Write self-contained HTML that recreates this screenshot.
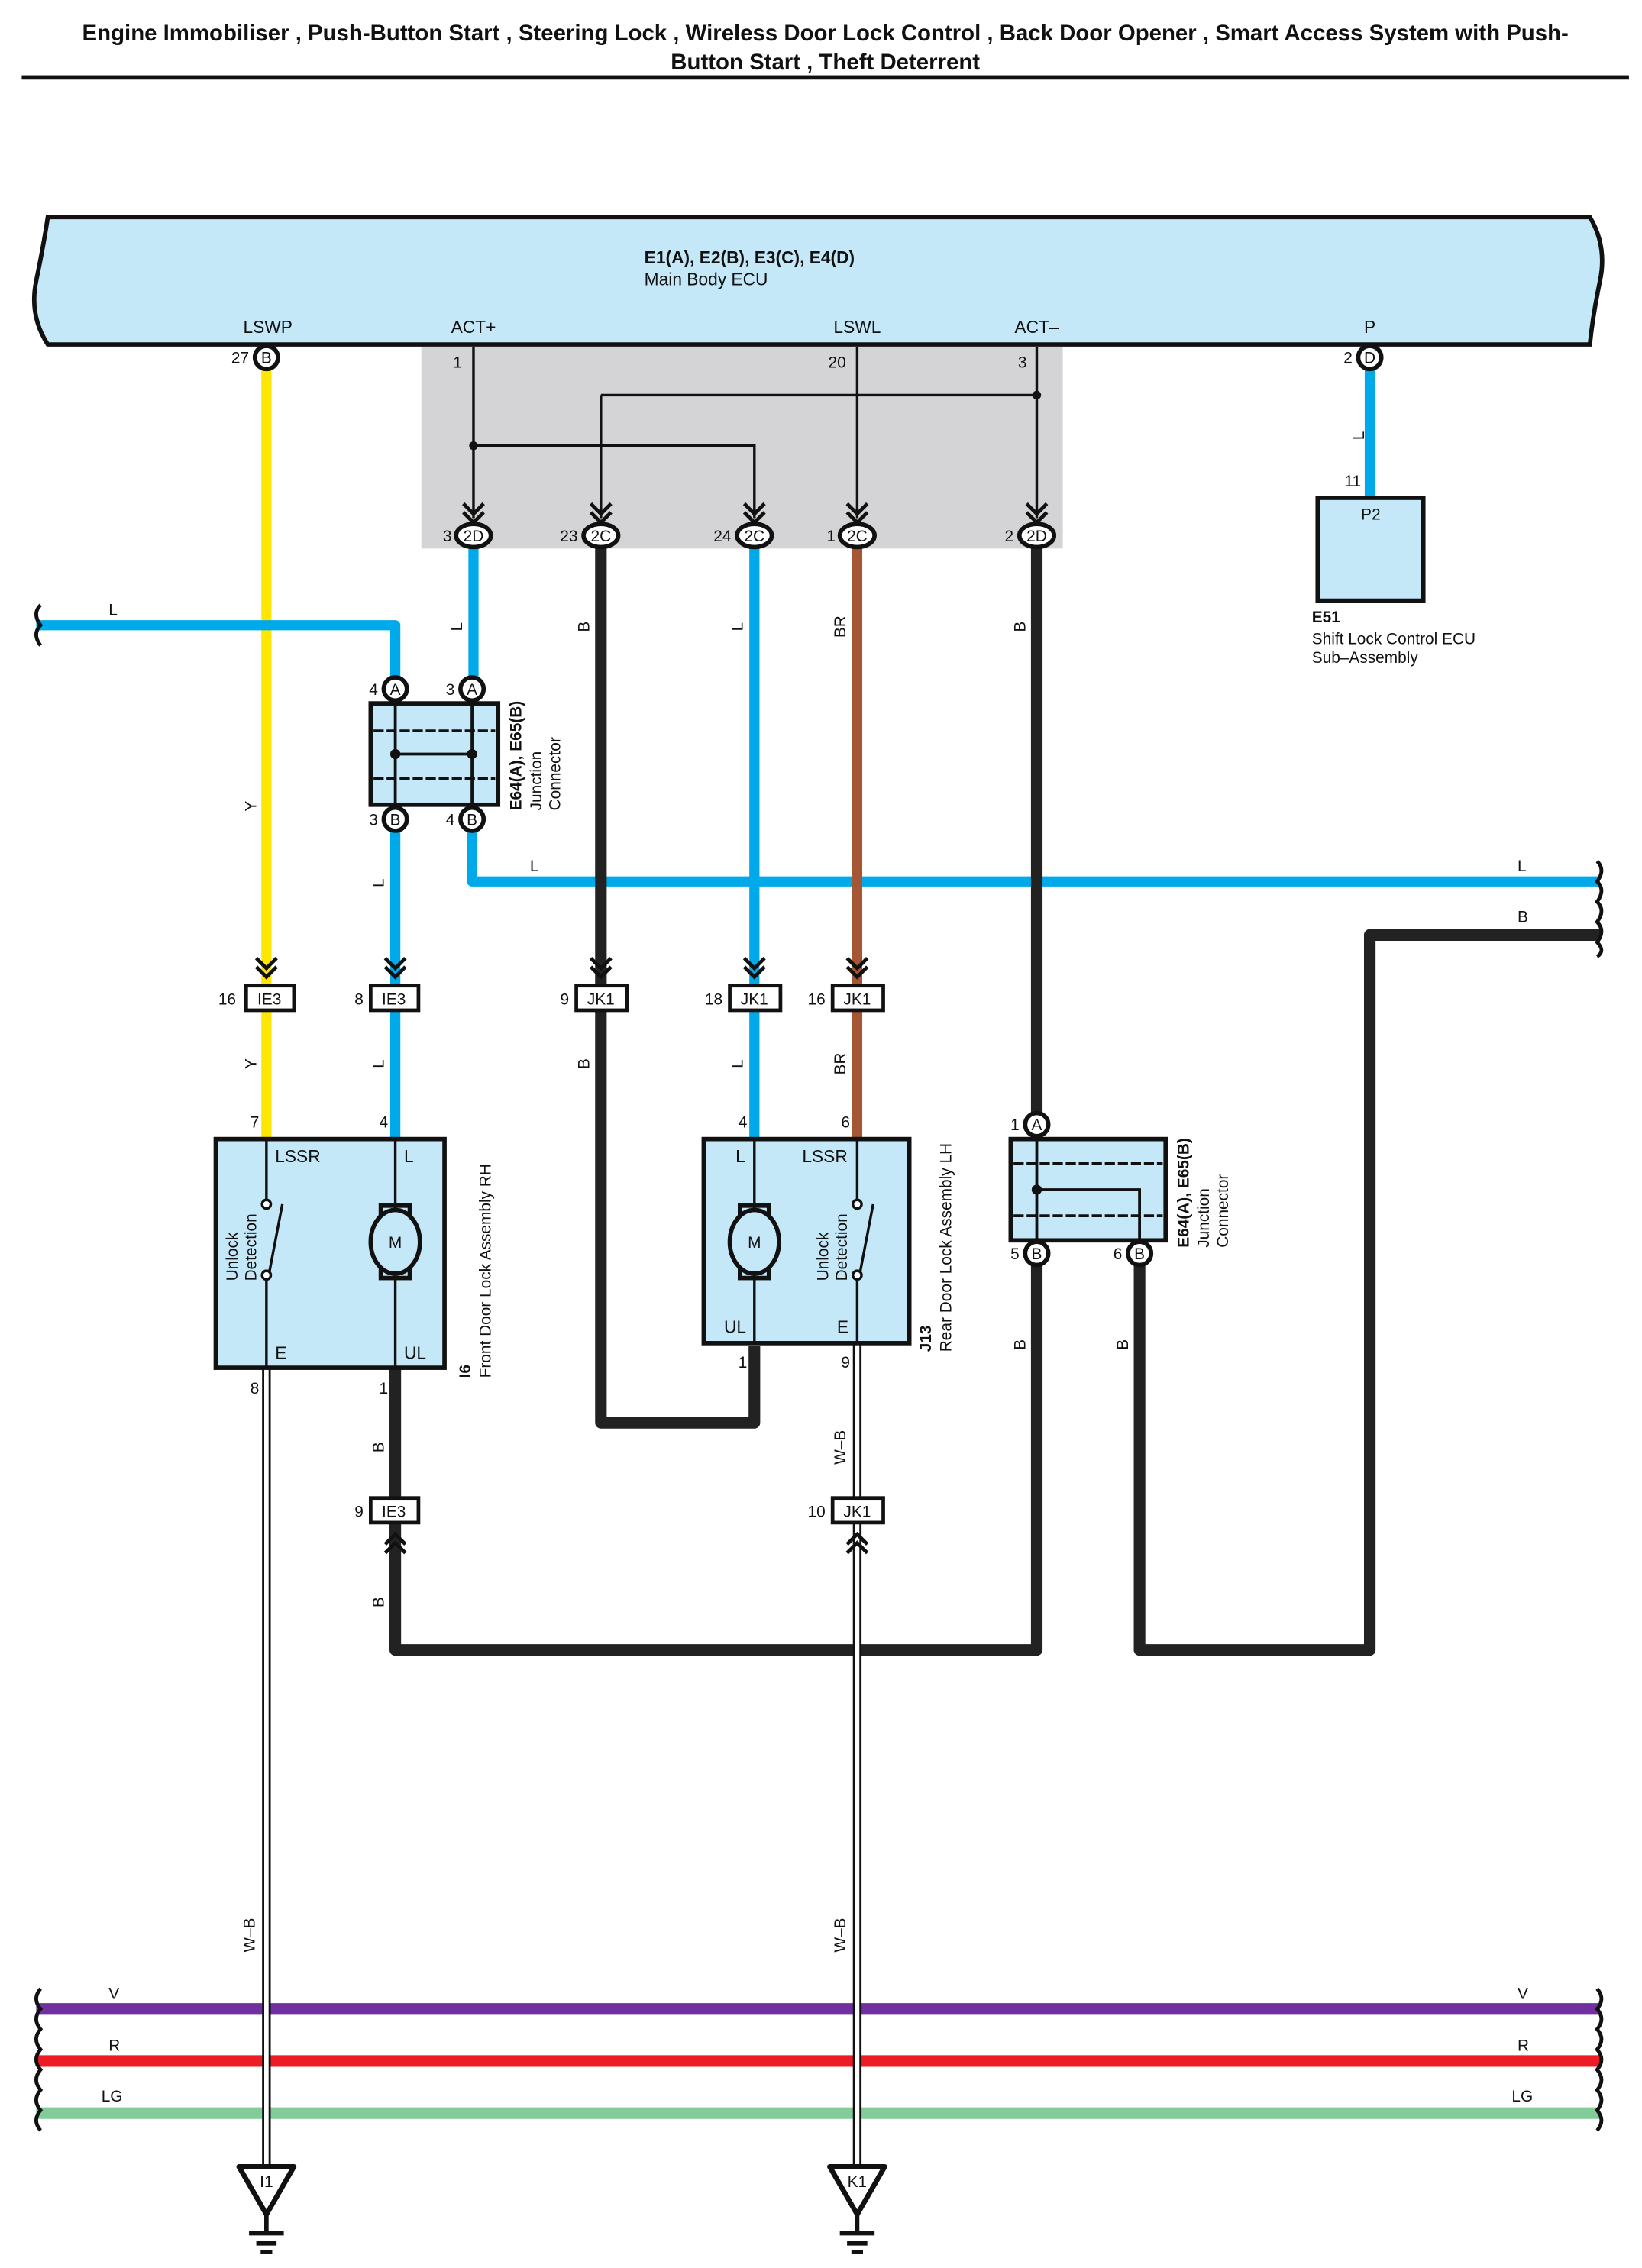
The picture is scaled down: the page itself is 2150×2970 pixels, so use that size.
<!DOCTYPE html>
<html><head><meta charset="utf-8"><style>
html,body{margin:0;padding:0;background:#fff}
svg{display:block}
text{font-family:"Liberation Sans",sans-serif;fill:#111}
</style></head><body>
<svg width="2150" height="2970" viewBox="0 0 1134 1567" preserveAspectRatio="none" xmlns="http://www.w3.org/2000/svg">
<defs>
<g id="chev"><path d="M-7,-10 L0,-3 L7,-10 M-7,-4 L0,3 L7,-4" fill="none" stroke="#111" stroke-width="2.5"/></g>
<g id="chevU"><path d="M-7,10 L0,3 L7,10 M-7,4 L0,-3 L7,4" fill="none" stroke="#111" stroke-width="2.5"/></g>
<g id="gnd"><path d="M-19,0 L19,0 L0,33 Z" fill="#fff" stroke="#111" stroke-width="3.5" stroke-linejoin="round"/><path d="M0,33 V46 M-12,46 H12 M-7,53 H7 M-4,59 H4" stroke="#111" stroke-width="3"/></g>
</defs>
<text x="570" y="28" font-size="15.5" font-weight="bold" text-anchor="middle">Engine Immobiliser , Push-Button Start , Steering Lock , Wireless Door Lock Control , Back Door Opener , Smart Access System with Push-</text>
<text x="570" y="48" font-size="15.5" font-weight="bold" text-anchor="middle">Button Start , Theft Deterrent</text>
<rect x="15" y="52" width="1110" height="3" fill="#111"/>

<!-- ECU -->
<path d="M33,150 H1098 Q1110,170 1105,194 Q1100,218 1098,238 H33 Q20,218 25,194 Q30,170 33,150 Z" fill="#c5e8f9" stroke="#111" stroke-width="3"/>
<text x="445" y="182" font-size="12" font-weight="bold">E1(A), E2(B), E3(C), E4(D)</text>
<text x="445" y="197" font-size="12">Main Body ECU</text>
<g font-size="12" text-anchor="middle"><text x="185" y="230">LSWP</text><text x="327" y="230">ACT+</text><text x="592" y="230">LSWL</text><text x="716" y="230">ACT–</text><text x="946" y="230">P</text></g>

<rect x="291" y="240" width="443" height="139" fill="#d4d4d6"/>

<!-- thin ECU lines -->
<g stroke="#111" stroke-width="1.8" fill="none">
<path d="M327,240 V358 M327,308 H521 V358 M592,240 V358 M716,240 V358 M415,273 H716 M415,273 V358"/>
</g>
<circle cx="327" cy="308" r="3" fill="#111"/><circle cx="716" cy="273" r="3" fill="#111"/>
<g font-size="11"><text x="313" y="254">1</text><text x="572" y="254">20</text><text x="703" y="254">3</text></g>

<!-- wires -->
<g fill="none" stroke-linejoin="round">
<path d="M184,255 V788" stroke="#ffe600" stroke-width="7"/>
<path d="M25,432 H273 V470" stroke="#00aaea" stroke-width="7"/>
<path d="M327,378 V470" stroke="#00aaea" stroke-width="7"/>
<path d="M326,566 V609 H1105" stroke="#00aaea" stroke-width="7"/>
<path d="M273,566 V788" stroke="#00aaea" stroke-width="7"/>
<path d="M521,378 V788" stroke="#00aaea" stroke-width="7"/>
<path d="M946,255 V343" stroke="#00aaea" stroke-width="7"/>
<path d="M415,378 V983 H521 V930" stroke="#222" stroke-width="8"/>
<path d="M592,378 V788" stroke="#a55634" stroke-width="7"/>
<path d="M716,378 V770" stroke="#222" stroke-width="8"/>
<path d="M716,874 V1140 H273 V1052" stroke="#222" stroke-width="8"/>
<path d="M787,874 V1140 H946 V646 H1105" stroke="#222" stroke-width="8"/>
<path d="M273,945 V1035" stroke="#222" stroke-width="8"/>
<!-- buses -->
<path d="M25,1388 H1105" stroke="#7030a0" stroke-width="8"/>
<path d="M25,1424 H1105" stroke="#ed1c24" stroke-width="8"/>
<path d="M25,1460 H1105" stroke="#82cc9a" stroke-width="8"/>
<!-- W-B -->
<path d="M184,945 V1497" stroke="#111" stroke-width="6"/>
<path d="M184,945 V1497" stroke="#fff" stroke-width="3"/>
<path d="M592,928 V1497" stroke="#111" stroke-width="6"/>
<path d="M592,928 V1497" stroke="#fff" stroke-width="3"/>
</g>
<!-- wire break marks -->
<g fill="none" stroke="#111" stroke-width="2.5">
<path d="M28,418 q-6,6 0,14 q-6,6 0,14"/>
<path d="M1103,595 q6,6 0,14 q6,6 0,14 q6,6 0,14 q6,6 0,14 q6,6 0,10"/>
<path d="M28,1374 q-6,7 0,14 q-6,7 0,14 q-6,7 0,14 q-6,7 0,14 q-6,7 0,14 q-6,7 0,14 q-6,7 0,14"/>
<path d="M1103,1374 q6,7 0,14 q6,7 0,14 q6,7 0,14 q6,7 0,14 q6,7 0,14 q6,7 0,14 q6,7 0,14"/>
</g>

<!-- wire labels -->
<g font-size="11">
<text x="75" y="425">L</text><text x="366" y="602">L</text><text x="1048" y="602">L</text><text x="1048" y="637">B</text>
<text x="75" y="1381">V</text><text x="1048" y="1381">V</text>
<text x="75" y="1417">R</text><text x="1048" y="1417">R</text>
<text x="70" y="1452">LG</text><text x="1044" y="1452">LG</text>
<text x="930" y="300" transform="rotate(-90 938 296)">L</text>
</g>
<g font-size="11" text-anchor="middle">
<text transform="translate(177,557) rotate(-90)">Y</text>
<text transform="translate(177,735) rotate(-90)">Y</text>
<text transform="translate(319,433) rotate(-90)">L</text>
<text transform="translate(265,610) rotate(-90)">L</text>
<text transform="translate(265,735) rotate(-90)">L</text>
<text transform="translate(407,433) rotate(-90)">B</text>
<text transform="translate(407,735) rotate(-90)">B</text>
<text transform="translate(513,433) rotate(-90)">L</text>
<text transform="translate(513,735) rotate(-90)">L</text>
<text transform="translate(584,433) rotate(-90)">BR</text>
<text transform="translate(584,735) rotate(-90)">BR</text>
<text transform="translate(708,433) rotate(-90)">B</text>
<text transform="translate(708,929) rotate(-90)">B</text>
<text transform="translate(779,929) rotate(-90)">B</text>
<text transform="translate(265,1000) rotate(-90)">B</text>
<text transform="translate(265,1107) rotate(-90)">B</text>
<text transform="translate(584,1000) rotate(-90)">W–B</text>
<text transform="translate(176,1337) rotate(-90)">W–B</text>
<text transform="translate(584,1337) rotate(-90)">W–B</text>
</g>

<!-- ECU pins -->
<g stroke="#111" stroke-width="3" fill="#fff">
<circle cx="184" cy="247" r="8"/><circle cx="946" cy="247" r="8"/>
<ellipse cx="327" cy="370" rx="12" ry="8"/><ellipse cx="415" cy="370" rx="12" ry="8"/><ellipse cx="521" cy="370" rx="12" ry="8"/><ellipse cx="592" cy="370" rx="12" ry="8"/><ellipse cx="716" cy="370" rx="12" ry="8"/>
</g>
<g font-size="11" text-anchor="middle">
<text x="184" y="251">B</text><text x="946" y="251">D</text>
<text x="327" y="374">2D</text><text x="415" y="374">2C</text><text x="521" y="374">2C</text><text x="592" y="374">2C</text><text x="716" y="374">2D</text>
</g>
<g font-size="11" text-anchor="end">
<text x="172" y="251">27</text><text x="934" y="251">2</text>
<text x="312" y="374">3</text><text x="399" y="374">23</text><text x="505" y="374">24</text><text x="577" y="374">1</text><text x="700" y="374">2</text>
</g>
<g><use href="#chev" x="327" y="358"/><use href="#chev" x="415" y="358"/><use href="#chev" x="521" y="358"/><use href="#chev" x="592" y="358"/><use href="#chev" x="716" y="358"/></g>

<!-- E51 -->
<rect x="910" y="344" width="73" height="71" fill="#c5e8f9" stroke="#111" stroke-width="3"/>
<text x="940" y="359" font-size="11">P2</text>
<text x="940" y="336" font-size="11" text-anchor="end">11</text>
<text x="906" y="430" font-size="11" font-weight="bold">E51</text>
<text x="906" y="445" font-size="11">Shift Lock Control ECU</text>
<text x="906" y="458" font-size="11">Sub–Assembly</text>

<!-- Junction connector 1 -->
<rect x="256" y="486" width="88" height="70" fill="#c5e8f9" stroke="#111" stroke-width="3"/>
<g stroke="#111" stroke-width="2" fill="none"><path d="M258,505 H342 M258,538 H342" stroke-dasharray="7,2"/><path d="M273,476 V566 M326,476 V566 M273,521 H326"/></g>
<circle cx="273" cy="521" r="3.5" fill="#111"/><circle cx="326" cy="521" r="3.5" fill="#111"/>
<g stroke="#111" stroke-width="3" fill="#fff"><circle cx="273" cy="476" r="8"/><circle cx="326" cy="476" r="8"/><circle cx="273" cy="566" r="8"/><circle cx="326" cy="566" r="8"/></g>
<g font-size="11" text-anchor="middle"><text x="273" y="480">A</text><text x="326" y="480">A</text><text x="273" y="570">B</text><text x="326" y="570">B</text></g>
<g font-size="11" text-anchor="end"><text x="261" y="480">4</text><text x="314" y="480">3</text><text x="261" y="570">3</text><text x="314" y="570">4</text></g>
<g font-size="11"><text transform="translate(360,560) rotate(-90)" font-weight="bold">E64(A), E65(B)</text><text transform="translate(374,560) rotate(-90)">Junction</text><text transform="translate(387,560) rotate(-90)">Connector</text></g>

<!-- Junction connector 2 -->
<rect x="698" y="787" width="107" height="70" fill="#c5e8f9" stroke="#111" stroke-width="3"/>
<g stroke="#111" stroke-width="2" fill="none"><path d="M700,804 H803 M700,840 H803" stroke-dasharray="7,2"/><path d="M716,777 V866 M716,822 H787 V866"/></g>
<circle cx="716" cy="822" r="3.5" fill="#111"/>
<g stroke="#111" stroke-width="3" fill="#fff"><circle cx="716" cy="777" r="8"/><circle cx="716" cy="866" r="8"/><circle cx="787" cy="866" r="8"/></g>
<g font-size="11" text-anchor="middle"><text x="716" y="781">A</text><text x="716" y="870">B</text><text x="787" y="870">B</text></g>
<g font-size="11" text-anchor="end"><text x="704" y="781">1</text><text x="704" y="870">5</text><text x="775" y="870">6</text></g>
<g font-size="11"><text transform="translate(821,862) rotate(-90)" font-weight="bold">E64(A), E65(B)</text><text transform="translate(835,862) rotate(-90)">Junction</text><text transform="translate(848,862) rotate(-90)">Connector</text></g>

<!-- in-line connectors -->
<g><use href="#chev" x="184" y="672"/><use href="#chev" x="273" y="672"/><use href="#chev" x="415" y="672"/><use href="#chev" x="521" y="672"/><use href="#chev" x="592" y="672"/><use href="#chevU" x="273" y="1063"/><use href="#chevU" x="592" y="1063"/></g>
<g stroke="#111" stroke-width="2.5" fill="#fff">
<rect x="170" y="681" width="33" height="17"/><rect x="256" y="681" width="33" height="17"/><rect x="398" y="681" width="35" height="17"/><rect x="504" y="681" width="35" height="17"/><rect x="575" y="681" width="35" height="17"/>
<rect x="256" y="1035" width="33" height="17"/><rect x="575" y="1035" width="35" height="17"/>
</g>
<g font-size="11" text-anchor="middle">
<text x="186" y="694">IE3</text><text x="272" y="694">IE3</text><text x="415" y="694">JK1</text><text x="521" y="694">JK1</text><text x="592" y="694">JK1</text>
<text x="272" y="1048">IE3</text><text x="592" y="1048">JK1</text>
</g>
<g font-size="11" text-anchor="end">
<text x="163" y="694">16</text><text x="251" y="694">8</text><text x="393" y="694">9</text><text x="499" y="694">18</text><text x="570" y="694">16</text>
<text x="251" y="1048">9</text><text x="570" y="1048">10</text>
</g>

<!-- I6 -->
<rect x="149" y="787" width="158" height="158" fill="#c5e8f9" stroke="#111" stroke-width="3"/>
<g stroke="#111" stroke-width="1.8" fill="none"><path d="M184,787 V832 M184,882 V945 M186,879 L195,832 M273,787 V836 M273,880 V945"/></g>
<circle cx="184" cy="832" r="3" fill="#fff" stroke="#111" stroke-width="1.8"/><circle cx="184" cy="881" r="3" fill="#fff" stroke="#111" stroke-width="1.8"/>
<rect x="263" y="833" width="20" height="50" fill="none" stroke="#111" stroke-width="3"/>
<ellipse cx="273" cy="858" rx="17" ry="22" fill="#c5e8f9" stroke="#111" stroke-width="3"/>
<text x="273" y="862" font-size="11" text-anchor="middle">M</text>
<g font-size="12"><text x="190" y="803">LSSR</text><text x="279" y="803">L</text><text x="190" y="939">E</text><text x="279" y="939">UL</text></g>
<g font-size="11"><text transform="translate(164,885) rotate(-90)">Unlock</text><text transform="translate(177,885) rotate(-90)">Detection</text></g>
<g font-size="11" text-anchor="end"><text x="179" y="779">7</text><text x="268" y="779">4</text><text x="179" y="963">8</text><text x="268" y="963">1</text></g>
<text transform="translate(325,952) rotate(-90)" font-size="11" font-weight="bold">I6</text>
<text transform="translate(339,952) rotate(-90)" font-size="11">Front Door Lock Assembly RH</text>

<!-- J13 -->
<rect x="486" y="787" width="142" height="141" fill="#c5e8f9" stroke="#111" stroke-width="3"/>
<g stroke="#111" stroke-width="1.8" fill="none"><path d="M592,787 V832 M592,882 V928 M594,879 L603,832 M521,787 V836 M521,880 V928"/></g>
<circle cx="592" cy="832" r="3" fill="#fff" stroke="#111" stroke-width="1.8"/><circle cx="592" cy="881" r="3" fill="#fff" stroke="#111" stroke-width="1.8"/>
<rect x="511" y="833" width="20" height="50" fill="none" stroke="#111" stroke-width="3"/>
<ellipse cx="521" cy="858" rx="17" ry="22" fill="#c5e8f9" stroke="#111" stroke-width="3"/>
<text x="521" y="862" font-size="11" text-anchor="middle">M</text>
<g font-size="12"><text x="508" y="803">L</text><text x="554" y="803">LSSR</text><text x="500" y="921">UL</text><text x="578" y="921">E</text></g>
<g font-size="11"><text transform="translate(572,885) rotate(-90)">Unlock</text><text transform="translate(585,885) rotate(-90)">Detection</text></g>
<g font-size="11" text-anchor="end"><text x="516" y="779">4</text><text x="587" y="779">6</text><text x="516" y="945">1</text><text x="587" y="945">9</text></g>
<text transform="translate(643,934) rotate(-90)" font-size="11" font-weight="bold">J13</text>
<text transform="translate(657,934) rotate(-90)" font-size="11">Rear Door Lock Assembly LH</text>

<!-- grounds -->
<use href="#gnd" x="184" y="1497"/><use href="#gnd" x="592" y="1497"/>
<text x="184" y="1511" font-size="11" text-anchor="middle">I1</text>
<text x="592" y="1511" font-size="11" text-anchor="middle">K1</text>
</svg>
</body></html>
